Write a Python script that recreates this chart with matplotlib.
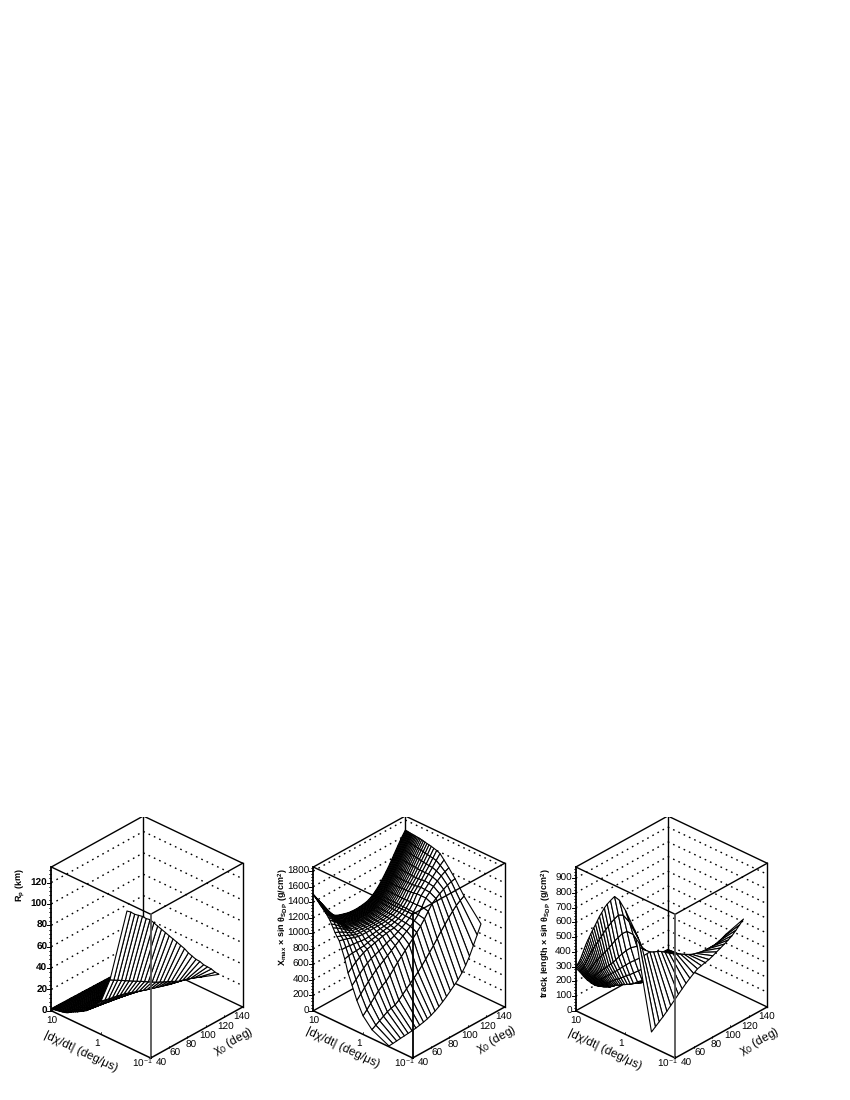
#!/usr/bin/env python3
import numpy as np
import matplotlib
matplotlib.use("Agg")
import matplotlib.pyplot as plt
from matplotlib.lines import Line2D
from matplotlib.transforms import IdentityTransform
from mpl_toolkits.mplot3d import proj3d

plt.rcParams['font.family'] = ['Liberation Sans', 'DejaVu Sans']
plt.rcParams['mathtext.default'] = 'regular'
plt.rcParams['text.hinting'] = 'no_hinting'
plt.rcParams['text.hinting_factor'] = 1

# grid of the surfaces
rates = [10, 9.66, 9.33, 9, 8.66, 8.33, 8, 7.66, 7.33, 7, 6.66, 6.33, 6, 5.66, 5.33, 5, 4.66, 4.33, 4, 3.66, 3.33, 3,
         2.66, 2.33, 2, 1.66, 1.33, 1, 0.66, 0.3]
chi0 = [40, 44.2, 48.3, 52.5, 56.7, 60.8, 65, 69.2, 73.3, 77.5, 81.7, 85.8, 90, 94.2, 98.3, 102.5, 106.7, 110.8,
        115, 119.2, 123.3, 127.5, 131.7, 135.8, 140]

# Rp (km), one row per rate
rp = [
    [2, 1.9, 1.9, 1.8, 1.7, 1.7, 1.6, 1.5, 1.5, 1.4, 1.3, 1.3, 1.2, 1.1, 1.1, 1, .9, .9, .8, .8, .7, .7, .6, .6, .5],
    [2.1, 2, 2, 1.9, 1.8, 1.8, 1.7, 1.6, 1.6, 1.5, 1.4, 1.4, 1.3, 1.2, 1.2, 1.1, 1, 1, .9, .8, .8, .7, .7, .6, .6],
    [2.2, 2.1, 2.1, 2, 1.9, 1.8, 1.8, 1.7, 1.6, 1.5, 1.5, 1.4, 1.3, 1.2, 1.2, 1.1, 1, 1, .9, .8, .8, .7, .7, .6, .6],
    [2.3, 2.2, 2.2, 2.1, 2, 1.9, 1.9, 1.8, 1.7, 1.6, 1.6, 1.5, 1.4, 1.3, 1.3, 1.2, 1.1, 1, 1, .9, .8, .8, .7, .7, .6],
    [2.4, 2.3, 2.2, 2.2, 2.1, 2, 1.9, 1.8, 1.8, 1.7, 1.6, 1.5, 1.4, 1.4, 1.3, 1.2, 1.1, 1, 1, .9, .9, .8, .7, .7, .6],
    [2.5, 2.4, 2.4, 2.3, 2.2, 2.1, 2, 2, 1.9, 1.8, 1.7, 1.6, 1.5, 1.4, 1.4, 1.3, 1.2, 1.1, 1, 1, .9, .8, .8, .7, .7],
    [2.7, 2.6, 2.5, 2.4, 2.3, 2.2, 2.2, 2.1, 2, 1.9, 1.8, 1.7, 1.6, 1.5, 1.4, 1.4, 1.3, 1.2, 1.1, 1, 1, .9, .8, .8, .7],
    [2.8, 2.7, 2.6, 2.5, 2.4, 2.4, 2.3, 2.2, 2.1, 2, 1.9, 1.8, 1.7, 1.6, 1.5, 1.4, 1.3, 1.2, 1.1, 1.1, 1, .9, .9, .8, .7],
    [3, 2.9, 2.8, 2.7, 2.6, 2.5, 2.4, 2.3, 2.2, 2.1, 2, 1.9, 1.8, 1.7, 1.6, 1.5, 1.4, 1.3, 1.2, 1.1, 1.1, 1, .9, .9, .8],
    [3.2, 3.1, 3, 2.9, 2.8, 2.6, 2.5, 2.4, 2.3, 2.2, 2.1, 2, 1.9, 1.8, 1.7, 1.6, 1.5, 1.4, 1.3, 1.2, 1.1, 1.1, 1, .9, .8],
    [3.4, 3.3, 3.2, 3.1, 2.9, 2.8, 2.7, 2.6, 2.5, 2.4, 2.3, 2.2, 2, 1.9, 1.8, 1.7, 1.6, 1.5, 1.4, 1.3, 1.2, 1.1, 1.1, 1, .9],
    [3.6, 3.5, 3.4, 3.2, 3.1, 3, 2.9, 2.8, 2.6, 2.5, 2.4, 2.3, 2.2, 2, 1.9, 1.8, 1.7, 1.6, 1.5, 1.4, 1.3, 1.2, 1.1, 1, 1],
    [3.8, 3.7, 3.5, 3.4, 3.3, 3.2, 3, 2.9, 2.8, 2.7, 2.5, 2.4, 2.3, 2.2, 2, 1.9, 1.8, 1.6, 1.5, 1.4, 1.4, 1.3, 1.2, 1.1, 1],
    [4.1, 4, 3.8, 3.7, 3.5, 3.4, 3.3, 3.1, 3, 2.9, 2.7, 2.6, 2.4, 2.3, 2.2, 2, 1.9, 1.8, 1.6, 1.6, 1.5, 1.4, 1.3, 1.2, 1.1],
    [4.4, 4.3, 4.1, 4, 3.8, 3.7, 3.5, 3.4, 3.2, 3.1, 2.9, 2.8, 2.6, 2.5, 2.3, 2.2, 2.1, 1.9, 1.8, 1.7, 1.6, 1.5, 1.4, 1.3, 1.2],
    [4.9, 4.8, 4.6, 4.5, 4.3, 4.1, 4, 3.8, 3.6, 3.5, 3.3, 3.1, 3, 2.8, 2.6, 2.5, 2.3, 2.1, 2, 1.9, 1.8, 1.7, 1.6, 1.4, 1.3],
    [5.5, 5.3, 5.1, 5, 4.8, 4.6, 4.4, 4.2, 4, 3.9, 3.7, 3.5, 3.3, 3.1, 2.9, 2.8, 2.6, 2.4, 2.2, 2.1, 2, 1.8, 1.7, 1.6, 1.5],
    [6.5, 6.3, 6, 5.9, 5.6, 5.4, 5.2, 5, 4.8, 4.6, 4.3, 4.1, 3.9, 3.7, 3.5, 3.3, 3, 2.8, 2.6, 2.5, 2.3, 2.2, 2, 1.9, 1.8],
    [7.5, 7.3, 7, 6.8, 6.5, 6.2, 6, 5.8, 5.5, 5.3, 5, 4.7, 4.5, 4.3, 4, 3.8, 3.5, 3.2, 3, 2.8, 2.7, 2.5, 2.3, 2.2, 2],
    [8.5, 8.2, 7.9, 7.7, 7.4, 7.1, 6.8, 6.5, 6.2, 6, 5.7, 5.4, 5.1, 4.8, 4.5, 4.3, 4, 3.7, 3.4, 3.2, 3, 2.8, 2.6, 2.5, 2.3],
    [9.5, 9.2, 8.9, 8.6, 8.2, 7.9, 7.6, 7.3, 7, 6.7, 6.3, 6, 5.7, 5.4, 5.1, 4.8, 4.4, 4.1, 3.8, 3.6, 3.4, 3.2, 3, 2.7, 2.5],
    [10.5, 10.2, 9.8, 9.5, 9.1, 8.7, 8.4, 8.1, 7.7, 7.4, 7, 6.6, 6.3, 6, 5.6, 5.3, 4.9, 4.5, 4.2, 4, 3.7, 3.5, 3.3, 3, 2.8],
    [12, 11.6, 11.2, 10.8, 10.4, 10, 9.6, 9.2, 8.8, 8.4, 8, 7.6, 7.2, 6.8, 6.4, 6, 5.6, 5.2, 4.8, 4.5, 4.3, 4, 3.7, 3.5, 3.2],
    [13.5, 13.1, 12.6, 12.2, 11.7, 11.2, 10.8, 10.4, 9.9, 9.5, 9, 8.5, 8.1, 7.7, 7.2, 6.8, 6.3, 5.8, 5.4, 5.1, 4.8, 4.5, 4.2, 3.9, 3.6],
    [15.5, 15, 14.5, 14, 13.4, 12.9, 12.4, 11.9, 11.4, 10.9, 10.3, 9.8, 9.3, 8.8, 8.3, 7.8, 7.2, 6.7, 6.2, 5.9, 5.5, 5.2, 4.8, 4.5, 4.1],
    [19, 18.4, 17.7, 17.1, 16.5, 15.8, 15.2, 14.6, 13.9, 13.3, 12.7, 12, 11.4, 10.8, 10.1, 9.5, 8.9, 8.2, 7.6, 7.2, 6.8, 6.3, 5.9, 5.5, 5.1],
    [24, 23.2, 22.4, 21.6, 20.8, 20, 19.2, 18.4, 17.6, 16.8, 16, 15.2, 14.4, 13.6, 12.8, 12, 11.2, 10.4, 9.6, 9.1, 8.5, 8, 7.5, 6.9, 6.4],
    [31, 30.2, 29.3, 28.5, 27.7, 26.8, 26, 24.7, 23.3, 22, 20.7, 19.3, 18, 16.8, 15.7, 14.5, 13.3, 12.2, 11, 10.2, 9.3, 8.5, 7.7, 6.8, 6],
    [55, 52.8, 50.7, 48.5, 46.3, 44.2, 42, 39.8, 37.7, 35.5, 33.3, 31.2, 29, 27.2, 25.3, 23.5, 21.7, 19.8, 18, 17, 15.8, 14.5, 13.2, 11.6, 10],
    [127, 124, 120, 117, 114, 110, 107, 102, 97, 92, 87, 82, 77, 72, 67, 62, 56, 51, 46, 42, 37, 33, 29, 24, 20],
]

# Xmax x sin(theta_SDP)
xmax = [
    [1500, 1415, 1335, 1250, 1170, 1100, 1065, 1045, 1030, 1015, 1008, 1005, 1008, 1015, 1025, 1050, 1090, 1140, 1205, 1275, 1350, 1435, 1520, 1600, 1670],
    [1490, 1408, 1328, 1245, 1166, 1097, 1063, 1044, 1029, 1015, 1007, 1004, 1007, 1014, 1024, 1049, 1089, 1139, 1204, 1274, 1350, 1434, 1519, 1599, 1669],
    [1480, 1400, 1322, 1240, 1162, 1095, 1062, 1042, 1028, 1014, 1007, 1004, 1007, 1014, 1024, 1049, 1089, 1139, 1204, 1274, 1349, 1433, 1518, 1598, 1668],
    [1470, 1392, 1315, 1234, 1157, 1092, 1060, 1040, 1027, 1013, 1006, 1004, 1006, 1013, 1023, 1048, 1088, 1138, 1204, 1273, 1348, 1432, 1516, 1596, 1667],
    [1460, 1383, 1308, 1228, 1153, 1090, 1058, 1039, 1026, 1013, 1006, 1004, 1006, 1013, 1023, 1048, 1088, 1138, 1204, 1273, 1347, 1431, 1515, 1595, 1666],
    [1448, 1373, 1300, 1222, 1148, 1086, 1056, 1037, 1024, 1012, 1005, 1003, 1006, 1012, 1022, 1047, 1087, 1137, 1203, 1272, 1346, 1430, 1514, 1593, 1664],
    [1437, 1364, 1292, 1216, 1143, 1082, 1054, 1036, 1023, 1011, 1005, 1003, 1006, 1012, 1022, 1047, 1087, 1137, 1203, 1272, 1346, 1430, 1513, 1592, 1663],
    [1424, 1353, 1282, 1208, 1137, 1078, 1051, 1034, 1021, 1010, 1004, 1002, 1005, 1011, 1021, 1046, 1086, 1136, 1203, 1271, 1345, 1428, 1511, 1590, 1661],
    [1410, 1342, 1273, 1200, 1132, 1075, 1049, 1032, 1020, 1009, 1004, 1002, 1005, 1011, 1021, 1046, 1086, 1136, 1203, 1271, 1344, 1427, 1510, 1588, 1660],
    [1397, 1331, 1264, 1192, 1126, 1070, 1046, 1030, 1018, 1008, 1003, 1001, 1004, 1010, 1020, 1045, 1085, 1136, 1202, 1270, 1343, 1425, 1508, 1586, 1659],
    [1385, 1320, 1255, 1185, 1120, 1066, 1043, 1028, 1017, 1007, 1003, 1001, 1004, 1010, 1020, 1045, 1085, 1136, 1202, 1270, 1342, 1424, 1506, 1584, 1658],
    [1370, 1306, 1243, 1176, 1112, 1061, 1040, 1025, 1015, 1005, 1002, 1000, 1003, 1009, 1019, 1044, 1084, 1135, 1202, 1269, 1341, 1422, 1504, 1582, 1656],
    [1355, 1293, 1232, 1167, 1105, 1056, 1037, 1023, 1013, 1004, 1001, 1000, 1003, 1009, 1019, 1044, 1084, 1135, 1202, 1269, 1340, 1421, 1502, 1580, 1655],
    [1338, 1278, 1219, 1156, 1096, 1050, 1033, 1020, 1011, 1002, 999, 999, 1002, 1008, 1018, 1043, 1083, 1134, 1201, 1268, 1338, 1419, 1500, 1578, 1653],
    [1320, 1263, 1206, 1146, 1088, 1045, 1030, 1018, 1009, 1001, 998, 998, 1001, 1007, 1017, 1042, 1082, 1134, 1201, 1268, 1337, 1417, 1497, 1575, 1652],
    [1295, 1244, 1190, 1134, 1079, 1040, 1026, 1015, 1006, 999, 996, 996, 999, 1006, 1016, 1041, 1081, 1133, 1201, 1267, 1335, 1414, 1494, 1571, 1649],
    [1270, 1225, 1175, 1122, 1070, 1035, 1022, 1012, 1004, 997, 994, 995, 998, 1005, 1016, 1041, 1081, 1133, 1201, 1266, 1334, 1412, 1491, 1568, 1646],
    [1230, 1192, 1150, 1103, 1058, 1025, 1015, 1006, 999, 993, 991, 992, 995, 1003, 1014, 1039, 1080, 1132, 1202, 1265, 1332, 1409, 1487, 1563, 1641],
    [1190, 1160, 1125, 1085, 1045, 1015, 1008, 1001, 995, 990, 988, 989, 992, 1001, 1013, 1038, 1079, 1132, 1203, 1265, 1330, 1407, 1484, 1558, 1636],
    [1140, 1120, 1092, 1060, 1028, 1002, 998, 993, 988, 985, 984, 985, 988, 998, 1011, 1036, 1078, 1131, 1204, 1265, 1328, 1404, 1479, 1552, 1630],
    [1100, 1082, 1060, 1035, 1010, 990, 988, 985, 982, 980, 980, 980, 984, 995, 1009, 1034, 1077, 1130, 1204, 1264, 1326, 1400, 1474, 1546, 1625],
    [1060, 1048, 1032, 1012, 992, 980, 975, 973, 973, 974, 975, 975, 980, 991, 1006, 1032, 1076, 1130, 1205, 1264, 1324, 1396, 1468, 1540, 1620],
    [965, 965, 960, 952, 948, 938, 930, 935, 942, 950, 958, 962, 972, 985, 1001, 1029, 1075, 1131, 1210, 1268, 1327, 1396, 1464, 1534, 1610],
    [860, 875, 882, 885, 890, 890, 905, 915, 925, 935, 945, 955, 963, 978, 996, 1026, 1074, 1132, 1215, 1272, 1330, 1395, 1458, 1528, 1600],
    [700, 745, 785, 820, 850, 870, 880, 895, 910, 925, 935, 945, 950, 970, 990, 1022, 1072, 1135, 1225, 1282, 1340, 1398, 1455, 1518, 1580],
    [565, 612, 660, 705, 745, 775, 795, 815, 838, 860, 880, 900, 928, 955, 985, 1020, 1070, 1135, 1225, 1278, 1330, 1385, 1435, 1480, 1522],
    [400, 455, 510, 560, 610, 655, 690, 725, 760, 795, 830, 865, 900, 935, 970, 1015, 1065, 1140, 1225, 1272, 1320, 1362, 1400, 1428, 1450],
    [240, 290, 345, 400, 450, 490, 520, 570, 625, 680, 730, 780, 830, 880, 930, 985, 1050, 1120, 1190, 1230, 1265, 1295, 1320, 1338, 1350],
    [115, 145, 175, 205, 235, 255, 270, 305, 350, 395, 440, 485, 530, 585, 640, 700, 760, 825, 890, 950, 1010, 1065, 1115, 1150, 1180],
    [10, 14, 19, 25, 30, 35, 40, 48, 58, 70, 85, 105, 130, 160, 195, 235, 280, 325, 370, 430, 500, 590, 700, 810, 925],
]

# track length x sin(theta_SDP)
track = [
    [290, 250, 205, 165, 130, 100, 80, 72, 68, 66, 66, 67, 68, 70, 72, 74, 76, 78, 78, 78, 77, 75, 73, 71, 70],
    [302, 259, 212, 170, 135, 104, 82, 74, 70, 68, 68, 68, 69, 71, 72, 74, 76, 78, 78, 78, 77, 75, 73, 71, 70],
    [315, 268, 220, 175, 140, 108, 84, 76, 72, 70, 70, 70, 71, 72, 73, 75, 77, 78, 78, 78, 77, 75, 73, 71, 70],
    [328, 278, 228, 181, 145, 112, 86, 78, 74, 72, 72, 72, 72, 73, 74, 76, 77, 78, 78, 78, 77, 75, 73, 71, 70],
    [340, 288, 236, 187, 150, 115, 88, 80, 76, 74, 74, 74, 74, 75, 76, 77, 78, 79, 79, 78, 77, 76, 74, 72, 71],
    [355, 299, 244, 193, 155, 118, 90, 82, 78, 76, 76, 76, 76, 76, 77, 78, 79, 80, 79, 78, 77, 76, 74, 72, 71],
    [370, 310, 252, 200, 160, 122, 92, 84, 80, 78, 78, 78, 78, 78, 79, 80, 80, 80, 80, 79, 78, 77, 75, 73, 72],
    [390, 326, 263, 207, 165, 126, 95, 87, 83, 81, 80, 80, 80, 80, 80, 81, 81, 81, 80, 79, 78, 77, 75, 73, 72],
    [410, 342, 275, 215, 170, 130, 98, 90, 86, 84, 83, 82, 82, 82, 82, 82, 82, 82, 81, 80, 79, 77, 76, 74, 73],
    [432, 360, 287, 223, 176, 136, 101, 93, 89, 87, 86, 85, 84, 84, 84, 83, 83, 82, 81, 80, 79, 77, 76, 74, 73],
    [455, 378, 300, 232, 183, 142, 105, 97, 92, 90, 89, 88, 87, 86, 86, 85, 84, 83, 82, 81, 80, 78, 77, 75, 74],
    [478, 396, 315, 241, 190, 147, 107, 100, 95, 93, 91, 90, 89, 88, 87, 86, 85, 84, 82, 81, 80, 78, 77, 75, 74],
    [500, 415, 330, 250, 198, 152, 110, 104, 98, 96, 94, 92, 91, 90, 89, 88, 86, 85, 83, 82, 81, 79, 78, 76, 75],
    [522, 432, 344, 261, 206, 158, 118, 110, 103, 100, 97, 95, 93, 92, 90, 89, 87, 86, 84, 83, 81, 80, 78, 77, 76],
    [545, 450, 358, 272, 215, 165, 125, 116, 108, 104, 101, 98, 96, 94, 92, 90, 88, 87, 85, 84, 82, 81, 79, 78, 77],
    [570, 470, 373, 283, 225, 173, 132, 123, 114, 109, 105, 101, 98, 96, 93, 91, 89, 88, 86, 84, 83, 81, 80, 79, 78],
    [595, 490, 388, 295, 235, 182, 140, 130, 120, 114, 109, 105, 101, 98, 95, 93, 91, 89, 87, 85, 84, 82, 81, 80, 79],
    [622, 512, 404, 307, 246, 192, 145, 136, 126, 119, 113, 108, 103, 99, 96, 93, 91, 89, 87, 85, 84, 83, 82, 81, 80],
    [650, 535, 420, 320, 258, 202, 150, 142, 132, 124, 117, 111, 105, 101, 97, 93, 91, 89, 88, 86, 85, 84, 83, 82, 82],
    [683, 560, 440, 335, 272, 212, 160, 150, 140, 132, 125, 118, 112, 107, 103, 100, 97, 95, 92, 90, 88, 87, 86, 85, 85],
    [718, 590, 462, 352, 285, 222, 168, 158, 148, 140, 132, 125, 118, 113, 108, 105, 102, 99, 96, 94, 92, 91, 90, 89, 88],
    [750, 620, 485, 370, 300, 235, 175, 165, 155, 147, 138, 130, 123, 118, 114, 110, 107, 104, 100, 98, 96, 95, 94, 93, 92],
    [790, 650, 515, 395, 320, 250, 185, 175, 165, 156, 148, 140, 133, 128, 123, 118, 114, 110, 106, 104, 102, 100, 99, 98, 97],
    [825, 685, 548, 425, 342, 268, 197, 186, 176, 167, 158, 150, 143, 137, 131, 126, 121, 117, 113, 110, 108, 106, 105, 104, 103],
    [860, 720, 580, 455, 365, 285, 210, 198, 187, 178, 170, 162, 155, 148, 142, 136, 131, 126, 122, 119, 116, 114, 112, 111, 110],
    [900, 760, 620, 490, 395, 310, 235, 222, 210, 200, 191, 183, 175, 168, 160, 153, 147, 142, 137, 133, 130, 128, 127, 128, 130],
    [890, 775, 650, 525, 425, 340, 260, 245, 232, 220, 210, 201, 193, 186, 179, 172, 167, 162, 158, 155, 153, 152, 154, 158, 165],
    [840, 748, 650, 555, 465, 380, 300, 280, 262, 245, 236, 228, 222, 217, 212, 207, 204, 202, 200, 201, 203, 206, 212, 222, 235],
    [740, 665, 590, 555, 530, 515, 505, 490, 470, 450, 432, 415, 400, 384, 369, 355, 347, 340, 335, 334, 334, 335, 342, 352, 365],
    [100, 120, 140, 160, 182, 206, 230, 254, 277, 300, 320, 338, 355, 362, 369, 375, 386, 398, 410, 422, 435, 450, 472, 495, 520],
]

x_ticks = [1, 0, -1]
x_labels = ['10', '1', '10$^{-1}$']
y_ticks = [40, 60, 80, 100, 120, 140]
rp_ticks = [0, 20, 40, 60, 80, 100, 120]
xmax_ticks = [0, 200, 400, 600, 800, 1000, 1200, 1400, 1600, 1800]
track_ticks = [0, 100, 200, 300, 400, 500, 600, 700, 800, 900]

PX_W, PX_H = 850, 1100
fig = plt.figure(figsize=(8.5, 11), dpi=100)
pix = IdentityTransform()


def to_px(ax, x, y, z):
    xs, ys, _ = proj3d.proj_transform(x, y, z, ax.get_proj())
    return ax.transData.transform((xs, ys))


def tick(ax, x, y, z, dx, dy, lw=0.7):
    px, py = to_px(ax, x, y, z)
    fig.add_artist(Line2D([px, px + dx], [py, py + dy], transform=pix, color='k', lw=lw))


def label(ax, x, y, z, s, dx, dy, **kw):
    px, py = to_px(ax, x, y, z)
    fig.text(px + dx, py + dy, s, transform=pix, fontsize=7, **kw)


def panel(cx, values, zmax, zticks, zminor, ztitle, ztitle_x, xtitle_pos, ytitle_pos, front_col, zweight):
    cy = 937
    w = 247
    left = cx - 0.5135 * w
    bottom = PX_H - (cy + 0.5135 * w)
    ax = fig.add_axes([left / PX_W, bottom / PX_H, w / PX_W, w / PX_H], projection='3d')
    ax.patch.set_alpha(0)
    ax.set_proj_type('ortho')
    ax.view_init(elev=30.9, azim=-47.2)
    ax.set_box_aspect((135, 135, 167))
    ax.computed_zorder = False
    ax.set_axis_off()
    ax.set_xlim(1, -1)
    ax.set_ylim(40, 140)
    ax.set_zlim(0, zmax)
    ax.apply_aspect()

    x0, x1 = 1, -1
    y0, y1 = 40, 140

    # dotted grid on the two back walls
    for t in zticks[1:]:
        ax.plot([x0, x0], [y0, y1], [t, t], color='k', lw=1.0, ls=(0, (1.2, 3)), zorder=1)
        ax.plot([x0, x1], [y1, y1], [t, t], color='k', lw=1.0, ls=(0, (1.2, 3)), zorder=1)

    # back part of the box, the surface goes over it
    edge = dict(color='k', lw=1.0, zorder=1)
    ax.plot([x0, x0], [y1, y1], [0, zmax], **edge)
    ax.plot([x1, x1], [y1, y1], [0, zmax], **edge)
    ax.plot([x0, x0], [y0, y1], [0, 0], **edge)
    ax.plot([x0, x1], [y1, y1], [0, 0], **edge)
    ax.plot([x0, x0], [y0, y1], [zmax, zmax], **edge)
    ax.plot([x0, x1], [y1, y1], [zmax, zmax], **edge)

    X, Y = np.meshgrid(np.log10(rates), chi0, indexing='ij')
    ax.plot_surface(X, Y, np.array(values), rstride=1, cstride=1, color='white',
                    edgecolor='k', linewidth=0.8, shade=False, zorder=2)

    # front part of the box
    front = dict(color='k', lw=1.0, zorder=3)
    ax.plot([x0, x1], [y0, y0], [zmax, zmax], **front)
    ax.plot([x1, x1], [y0, y1], [zmax, zmax], **front)
    ax.plot([x0, x1], [y0, y0], [0, 0], color='k', lw=1.1, zorder=3)
    ax.plot([x1, x1], [y0, y1], [0, 0], color='k', lw=1.1, zorder=3)
    ax.plot([x0, x0], [y0, y0], [0, zmax], color='k', lw=1.3, zorder=3)
    ax.plot([x1, x1], [y0, y0], [0, zmax], color=front_col, lw=1.3, zorder=3)

    # z axis
    for t in zticks:
        tick(ax, x0, y0, t, -4, 0)
        label(ax, x0, y0, t, str(t), -4, -0.5, ha='right', va='center', weight=zweight)
    for t in zminor:
        tick(ax, x0, y0, t, -2, 0, lw=0.5)

    # rate axis
    x_off = [(0, -11), (-4, -9), (-8, -5)]
    for t, s, off in zip(x_ticks, x_labels, x_off):
        tick(ax, t, y0, 0, 0, 2, lw=0.5)
        label(ax, t, y0, 0, s, off[0], off[1], ha='center', va='center')

    # chi0 axis
    y_off = [(11, -5), (6, -6), (4, -8), (2, -9), (1, -10), (-1, -10)]
    for t, off in zip(y_ticks, y_off):
        tick(ax, x1, t, 0, 0, 2, lw=0.5)
        label(ax, x1, t, 0, str(t), off[0], off[1], ha='center', va='center')

    fig.text(ztitle_x, PX_H - 868, ztitle, transform=pix, fontsize=6.5, rotation=90, ha='center', va='top',
             weight='bold')
    fig.text(xtitle_pos[0], PX_H - xtitle_pos[1], '|dχ/dt| (deg/μs)', transform=pix, fontsize=8.8,
             rotation=-25.4, ha='center', va='center', rotation_mode='anchor')
    fig.text(ytitle_pos[0], PX_H - ytitle_pos[1], 'χ$_0$ (deg)', transform=pix, fontsize=8.8,
             rotation=29, ha='center', va='center', rotation_mode='anchor')
    return ax


panel(147, rp, 134.5, rp_ticks, [t for t in range(0, 135, 4) if t % 20], 'R$_p$ (km)', 20,
      (81, 1052), (234, 1042), '#555555', 'bold')
panel(409, xmax, 1852, xmax_ticks, [t for t in range(0, 1850, 40) if t % 200],
      'X$_{max}$ × sin θ$_{SDP}$ (g/cm$^2$)', 282, (343, 1048), (497, 1040), 'k', 'normal')
panel(671.5, track, 975, track_ticks, [t for t in range(0, 975, 20) if t % 100],
      'track length × sin θ$_{SDP}$ (g/cm$^2$)', 545, (605, 1050), (760, 1042), '#555555', 'normal')

fig.savefig('out.png', dpi=100)
